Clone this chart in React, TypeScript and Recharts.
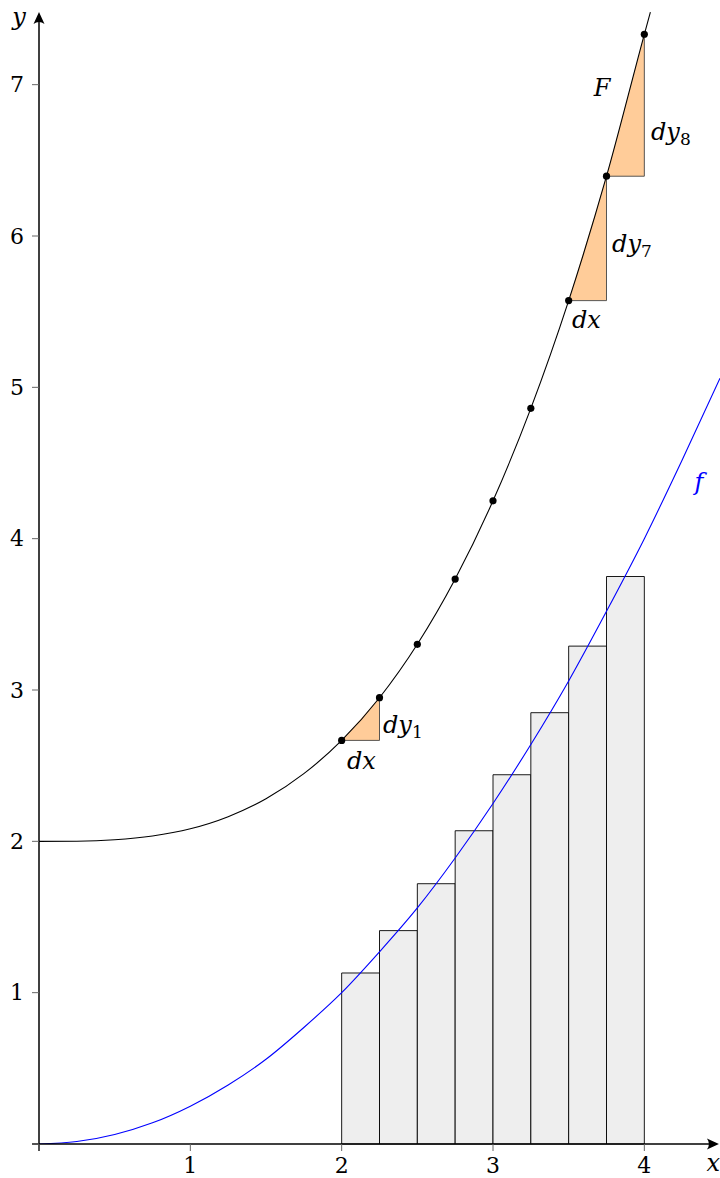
import React from 'react';
import {
  ComposedChart, Line, Scatter, XAxis, YAxis, ReferenceArea, ReferenceLine, ReferenceDot,
} from 'recharts';

// ---- data ----
const X_TICKS = [0, 1, 2, 3, 4];
const Y_TICKS = [0, 1, 2, 3, 4, 5, 6, 7];

const F_SMALL_X = [0, 0.25, 0.5, 0.75, 1, 1.25, 1.5, 1.75, 2, 2.25, 2.5, 2.75, 3, 3.25, 3.5, 3.75, 4, 4.25, 4.5];
const F_SMALL_Y = [0, 0.016, 0.063, 0.14, 0.25, 0.39, 0.56, 0.77, 1.0, 1.27, 1.56, 1.89, 2.25, 2.64, 3.06, 3.52, 4.0, 4.52, 5.06];

const F_BIG_X = [0, 0.25, 0.5, 0.75, 1, 1.25, 1.5, 1.75, 2, 2.25, 2.5, 2.75, 3, 3.25, 3.5, 3.75, 4, 4.04];
const F_BIG_Y = [2, 2.001, 2.01, 2.035, 2.083, 2.163, 2.281, 2.447, 2.667, 2.949, 3.302, 3.733, 4.25, 4.861, 5.573, 6.395, 7.333, 7.48];

const DOT_X = [2, 2.25, 2.5, 2.75, 3, 3.25, 3.5, 3.75, 4];
const DOT_Y = [2.667, 2.949, 3.302, 3.733, 4.25, 4.861, 5.573, 6.395, 7.333];

const RECT_X0 = [2, 2.25, 2.5, 2.75, 3, 3.25, 3.5, 3.75];
const RECT_W = 0.25;
const RECT_H = [1.13, 1.41, 1.72, 2.07, 2.44, 2.85, 3.29, 3.75];

const TRI_START = [0, 6, 7];

const LABELS = [
  { x: -0.132, y: 7.394, main: 'y', sub: '', anchor: 'middle', color: '#000' },
  { x: 4.455, y: -0.178, main: 'x', sub: '', anchor: 'middle', color: '#000' },
  { x: 3.72, y: 6.925, main: 'F', sub: '', anchor: 'middle', color: '#000' },
  { x: 4.044, y: 6.634, main: 'dy', sub: '8', anchor: 'start', color: '#000' },
  { x: 3.787, y: 5.894, main: 'dy', sub: '7', anchor: 'start', color: '#000' },
  { x: 3.522, y: 5.392, main: 'dx', sub: '', anchor: 'start', color: '#000' },
  { x: 2.273, y: 2.716, main: 'dy', sub: '1', anchor: 'start', color: '#000' },
  { x: 2.035, y: 2.478, main: 'dx', sub: '', anchor: 'start', color: '#000' },
  { x: 4.361, y: 4.322, main: 'f', sub: '', anchor: 'middle', color: '#0000ff' },
];

const AXIS_TIP_X = 4.493;
const AXIS_TIP_Y = 7.48;

const FONT = 'DejaVu Serif';

const fSmall = F_SMALL_X.map((x, i) => ({ x, y: F_SMALL_Y[i] }));
const fBig = F_BIG_X.map((x, i) => ({ x, y: F_BIG_Y[i] }));
const dots = DOT_X.map((x, i) => ({ x, y: DOT_Y[i] }));

const triangleShape = (props: any) => {
  const { x, y, width, height } = props;
  const x2 = x + width;
  const yb = y + height;
  return (
    <g>
      <path d={`M${x},${yb} L${x2},${yb} L${x2},${y} Z`} fill="#ffcc99" stroke="none" />
      <path d={`M${x},${yb} L${x2},${yb} L${x2},${y}`} fill="none" stroke="#444" strokeWidth={0.9} />
    </g>
  );
};

const arrowRight = (props: any) => {
  const { cx, cy } = props;
  return (
    <path d={`M${cx},${cy} L${cx - 12},${cy - 5.5} Q${cx - 8},${cy} ${cx - 12},${cy + 5.5} Z`} fill="#000" />
  );
};

const arrowUp = (props: any) => {
  const { cx, cy } = props;
  return (
    <path d={`M${cx},${cy} L${cx - 5.5},${cy + 12} Q${cx},${cy + 8} ${cx + 5.5},${cy + 12} Z`} fill="#000" />
  );
};

const makeLabel = (lab: typeof LABELS[number]) => (props: any) => {
  const { cx, cy } = props;
  return (
    <text
      x={cx}
      y={cy}
      textAnchor={lab.anchor as any}
      fontFamily={FONT}
      fontSize={24}
      fontStyle="italic"
      fill={lab.color}
    >
      <tspan>{lab.main}</tspan>
      {lab.sub ? (
        <tspan fontSize={17} fontStyle="normal" dy={5}>{lab.sub}</tspan>
      ) : null}
    </text>
  );
};

const dotShape = (props: any) => <circle cx={props.cx} cy={props.cy} r={3.6} fill="#000" />;

export default function App() {
  return (
    <div style={{ position: 'absolute', left: 0, top: 0, width: 720, height: 1178, background: '#fff' }}>
      <ComposedChart width={720} height={1178} margin={{ top: 9, right: 0, left: 0, bottom: 0 }}>
        <XAxis
          type="number"
          dataKey="x"
          domain={[0, 4.5]}
          ticks={X_TICKS}
          allowDataOverflow
          axisLine={false}
          tickLine={{ stroke: '#666', strokeWidth: 1 }}
          tickSize={7}
          tickMargin={6}
          height={34}
          tickFormatter={(v: number) => (v === 0 ? '' : String(v))}
          tick={{ fill: '#000', fontSize: 22, fontFamily: FONT }}
        />
        <YAxis
          type="number"
          domain={[0, 7.5]}
          ticks={Y_TICKS}
          allowDataOverflow
          axisLine={false}
          tickLine={{ stroke: '#666', strokeWidth: 1 }}
          tickSize={7}
          tickMargin={8}
          width={39}
          tickFormatter={(v: number) => (v === 0 ? '' : String(v))}
          tick={{ fill: '#000', fontSize: 22, fontFamily: FONT }}
        />

        {RECT_X0.map((x0, i) => (
          <ReferenceArea
            key={`r${i}`}
            x1={x0}
            x2={x0 + RECT_W}
            y1={0}
            y2={RECT_H[i]}
            fill="#eeeeee"
            fillOpacity={1}
            stroke="#000"
            strokeWidth={0.9}
            ifOverflow="visible"
          />
        ))}

        {TRI_START.map((i) => (
          <ReferenceArea
            key={`t${i}`}
            x1={DOT_X[i]}
            x2={DOT_X[i + 1]}
            y1={DOT_Y[i]}
            y2={DOT_Y[i + 1]}
            ifOverflow="visible"
            shape={triangleShape}
          />
        ))}

        <Line data={fSmall} dataKey="y" type="monotone" stroke="#0000ff" strokeWidth={1.1} dot={false} isAnimationActive={false} />
        <Line data={fBig} dataKey="y" type="monotone" stroke="#000" strokeWidth={1.1} dot={false} isAnimationActive={false} />
        <Scatter data={dots} dataKey="y" shape={dotShape} isAnimationActive={false} />

        <ReferenceLine segment={[{ x: -0.046, y: 0 }, { x: AXIS_TIP_X - 0.03, y: 0 }]} stroke="#000" strokeWidth={1.5} ifOverflow="visible" />
        <ReferenceLine segment={[{ x: 0, y: -0.046 }, { x: 0, y: AXIS_TIP_Y - 0.03 }]} stroke="#000" strokeWidth={1.5} ifOverflow="visible" />
        <ReferenceDot x={AXIS_TIP_X} y={0} r={0} ifOverflow="visible" shape={arrowRight} />
        <ReferenceDot x={0} y={AXIS_TIP_Y} r={0} ifOverflow="visible" shape={arrowUp} />

        {LABELS.map((lab, i) => (
          <ReferenceDot key={`l${i}`} x={lab.x} y={lab.y} r={0} ifOverflow="visible" shape={makeLabel(lab)} />
        ))}
      </ComposedChart>
    </div>
  );
}
